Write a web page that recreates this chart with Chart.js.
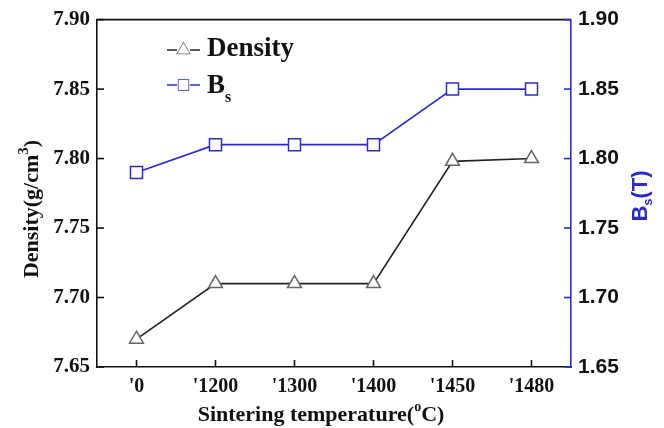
<!DOCTYPE html>
<html>
<head>
<meta charset="utf-8">
<script src="https://cdn.jsdelivr.net/npm/chart.js@4"></script>
<style>
  body { margin: 0; background: #fff; }
</style>
</head>
<body>
<canvas id="grafico" width="664" height="428"></canvas>
<script>
// dados
var temperaturas = ["'0", "'1200", "'1300", "'1400", "'1450", "'1480"]
var densidade = [7.67, 7.71, 7.71, 7.71, 7.798, 7.80]
var bs = [1.79, 1.81, 1.81, 1.81, 1.85, 1.85]
var densidadeEixo = [7.65, 7.90, 0.05]
var bsEixo = [1.65, 1.90, 0.05]

var azul = '#2b2bcc'
var serif = '"Liberation Serif", "Times New Roman", serif'
var sans = '"Liberation Sans", Arial, sans-serif'

// ticks para dentro, borda de cima, titulos e legenda
var extras = {
    id: 'extras',
    afterDraw: function (chart) {
        var ctx = chart.ctx
        var area = chart.chartArea
        var x = chart.scales.x
        var yE = chart.scales.y
        var yD = chart.scales.y2

        ctx.save()
        ctx.lineWidth = 1.6

        ctx.strokeStyle = '#111'
        ctx.beginPath()
        ctx.moveTo(area.left, area.top)
        ctx.lineTo(area.right, area.top)
        ctx.stroke()

        yE.ticks.forEach(function (t, i) {
            var py = yE.getPixelForTick(i)
            ctx.beginPath()
            ctx.moveTo(area.left, py)
            ctx.lineTo(area.left + 7, py)
            ctx.stroke()
        })
        x.ticks.forEach(function (t, i) {
            var px = x.getPixelForTick(i)
            ctx.beginPath()
            ctx.moveTo(px, area.bottom)
            ctx.lineTo(px, area.bottom - 7)
            ctx.stroke()
        })
        ctx.strokeStyle = azul
        yD.ticks.forEach(function (t, i) {
            var py = yD.getPixelForTick(i)
            ctx.beginPath()
            ctx.moveTo(area.right, py)
            ctx.lineTo(area.right - 7, py)
            ctx.stroke()
        })

        // titulo x
        ctx.fillStyle = '#111'
        ctx.textBaseline = 'alphabetic'
        var p1 = 'Sintering temperature('
        var p2 = 'C)'
        ctx.font = 'bold 14px ' + serif
        var wo = ctx.measureText('o').width
        ctx.font = 'bold 22px ' + serif
        var w = ctx.measureText(p1).width + wo + ctx.measureText(p2).width
        var sx = 321 - w / 2
        var by = 421
        ctx.textAlign = 'left'
        ctx.fillText(p1, sx, by)
        sx += ctx.measureText(p1).width
        ctx.font = 'bold 14px ' + serif
        ctx.fillText('o', sx, by - 10)
        sx += wo
        ctx.font = 'bold 22px ' + serif
        ctx.fillText(p2, sx, by)

        // titulo y esquerdo
        ctx.save()
        ctx.translate(38, 209)
        ctx.rotate(-Math.PI / 2)
        var a1 = 'Density(g/cm'
        var a2 = ')'
        ctx.font = 'bold 15px ' + serif
        var w3 = ctx.measureText('3').width
        ctx.font = 'bold 22px ' + serif
        var wa = ctx.measureText(a1).width + w3 + ctx.measureText(a2).width
        var ax = -wa / 2
        ctx.fillText(a1, ax, 0)
        ax += ctx.measureText(a1).width
        ctx.font = 'bold 15px ' + serif
        ctx.fillText('3', ax, -10)
        ax += w3
        ctx.font = 'bold 22px ' + serif
        ctx.fillText(a2, ax, 0)
        ctx.restore()

        // titulo y direito
        ctx.save()
        ctx.translate(647, 196)
        ctx.rotate(-Math.PI / 2)
        ctx.fillStyle = azul
        ctx.font = 'bold 22px ' + sans
        var wb = ctx.measureText('B').width
        ctx.font = 'bold 13px ' + sans
        var ws = ctx.measureText('s').width
        ctx.font = 'bold 22px ' + sans
        var wt = wb + ws + ctx.measureText('(T)').width
        var bx = -wt / 2
        ctx.fillText('B', bx, 0)
        bx += wb
        ctx.font = 'bold 13px ' + sans
        ctx.fillText('s', bx, 5)
        bx += ws
        ctx.font = 'bold 22px ' + sans
        ctx.fillText('(T)', bx, 0)
        ctx.restore()

        // legenda
        function amostra(y, cor, corPonto, estilo, raio) {
            ctx.strokeStyle = cor
            ctx.lineWidth = 1.5
            ctx.beginPath()
            ctx.moveTo(167, y)
            ctx.lineTo(177, y)
            ctx.moveTo(190, y)
            ctx.lineTo(200, y)
            ctx.stroke()
            ctx.fillStyle = '#fff'
            ctx.strokeStyle = corPonto
            Chart.helpers.drawPoint(ctx, { pointStyle: estilo, radius: raio, borderWidth: 1.5 }, 183.5, y)
            ctx.fill()
        }
        amostra(50, '#222', '#666', 'triangle', 7)
        amostra(85, azul, azul, 'rect', 7)

        ctx.fillStyle = '#111'
        ctx.font = 'bold 27px ' + serif
        ctx.textAlign = 'left'
        ctx.fillText('Density', 207, 56)
        ctx.fillText('B', 207, 93)
        ctx.font = 'bold 16px ' + serif
        ctx.fillText('s', 225, 102)

        ctx.restore()
    }
}

var canvas = document.getElementById("grafico")

var grafico = new Chart(canvas, {
    type: 'line',
    data: {
        labels: temperaturas,
        datasets: [{
            label: 'Density',
            data: densidade,
            yAxisID: 'y',
            borderColor: '#222',
            borderWidth: 1.6,
            pointStyle: 'triangle',
            pointRadius: 8,
            pointBorderColor: '#666',
            pointBackgroundColor: '#fff',
            pointBorderWidth: 1.5,
            tension: 0,
            fill: false,
        }, {
            label: 'Bs',
            data: bs,
            yAxisID: 'y2',
            borderColor: azul,
            borderWidth: 1.6,
            pointStyle: 'rect',
            pointRadius: 8.5,
            pointBorderColor: azul,
            pointBackgroundColor: '#fff',
            pointBorderWidth: 1.5,
            tension: 0,
            fill: false,
        }],
    },
    options: {
        responsive: false,
        animation: false,
        devicePixelRatio: 1,
        layout: { padding: { top: 17, left: 0, right: 0, bottom: 0 } },
        plugins: {
            legend: { display: false },
            tooltip: { enabled: false },
        },
        scales: {
            x: {
                offset: true,
                grid: { display: false, drawTicks: false },
                border: { color: '#111', width: 1.6 },
                ticks: {
                    color: '#111',
                    padding: 8,
                    font: { family: serif, size: 20, weight: 'bold' },
                },
                afterFit: function (s) { s.height = 61 },
            },
            y: {
                position: 'left',
                min: densidadeEixo[0],
                max: densidadeEixo[1],
                grid: { display: false, drawTicks: false },
                border: { color: '#111', width: 1.6 },
                ticks: {
                    stepSize: densidadeEixo[2],
                    color: '#111',
                    padding: 7,
                    font: { family: serif, size: 21, weight: 'bold' },
                    callback: function (v) { return v.toFixed(2) },
                },
                afterFit: function (s) { s.width = 97 },
            },
            y2: {
                position: 'right',
                min: bsEixo[0],
                max: bsEixo[1],
                grid: { display: false, drawTicks: false },
                border: { color: azul, width: 1.6 },
                ticks: {
                    stepSize: bsEixo[2],
                    color: '#111',
                    padding: 7,
                    font: { family: sans, size: 21, weight: 'bold' },
                    callback: function (v) { return v.toFixed(2) },
                },
                afterFit: function (s) { s.width = 93 },
            },
        },
    },
    plugins: [extras],
})
</script>
</body>
</html>
